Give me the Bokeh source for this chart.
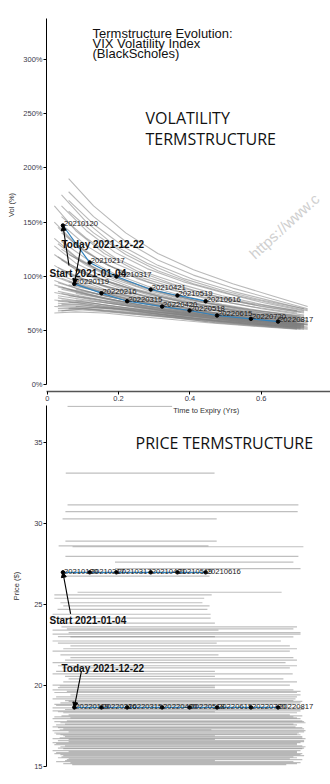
from bokeh.plotting import figure
from bokeh.models import Range1d, Label, Arrow, NormalHead, FixedTicker
from bokeh.layouts import column
from bokeh.embed import file_html
from bokeh.resources import INLINE
from bokeh.core.properties import value

# ---------------- data ----------------
# gray volatility term structures (time to expiry in years, vol in %)
vol_grid_a = [0.02, 0.08, 0.16, 0.25, 0.35, 0.45, 0.57, 0.70]
vol_grid_b = [0.04, 0.11, 0.19, 0.28, 0.38, 0.49, 0.60, 0.72]
vol_grid_c = [0.06, 0.13, 0.22, 0.31, 0.41, 0.52, 0.63, 0.73]
vol_grid_d = [0.03, 0.09, 0.17, 0.27, 0.37, 0.47, 0.59, 0.71]
vol_grid_e = [0.08, 0.15, 0.24, 0.33, 0.43, 0.54, 0.65, 0.72]

vol_curves_a = [
    [165, 142, 121, 105, 93, 83, 75, 68],
    [150, 130, 112, 98, 87, 79, 72, 66],
    [135, 118, 103, 91, 82, 75, 69, 63],
    [128, 112, 99, 88, 80, 73, 67, 62],
    [120, 106, 94, 84, 76, 70, 65, 60],
    [110, 98, 88, 80, 73, 67, 62, 58],
    [100, 92, 84, 77, 71, 65, 61, 57],
    [96, 89, 82, 76, 70, 64, 60, 56],
    [92, 86, 80, 74, 68, 63, 59, 55],
    [85, 81, 76, 71, 66, 62, 58, 54],
    [78, 76, 72, 68, 64, 60, 56, 53],
    [72, 71, 68, 65, 62, 58, 55, 52],
    [66, 67, 66, 63, 60, 57, 54, 51],
]
vol_curves_b = [
    [175, 150, 128, 112, 98, 87, 78, 70],
    [165, 142, 122, 107, 95, 85, 76, 68],
    [155, 135, 117, 103, 92, 82, 74, 67],
    [148, 128, 112, 99, 89, 80, 72, 66],
    [140, 122, 107, 95, 85, 77, 70, 64],
    [132, 116, 102, 91, 82, 74, 68, 63],
    [125, 110, 97, 87, 79, 72, 66, 62],
    [115, 103, 92, 83, 76, 70, 64, 60],
    [105, 96, 87, 79, 72, 67, 62, 58],
    [98, 90, 82, 75, 69, 64, 60, 56],
    [90, 84, 78, 72, 67, 62, 58, 55],
    [88, 83, 77, 71, 66, 62, 58, 54],
    [84, 80, 75, 70, 65, 61, 57, 54],
    [78, 76, 72, 68, 64, 60, 56, 53],
    [74, 73, 70, 66, 62, 58, 55, 52],
    [68, 70, 68, 65, 61, 58, 54, 51],
]
vol_curves_c = [
    [190, 165, 140, 121, 106, 93, 82, 72],
    [178, 155, 132, 115, 101, 89, 79, 70],
    [170, 148, 126, 110, 97, 86, 77, 69],
    [160, 140, 120, 105, 93, 83, 75, 68],
    [120, 108, 96, 86, 78, 71, 65, 61],
    [110, 100, 90, 82, 75, 69, 63, 59],
    [102, 94, 86, 78, 72, 66, 61, 57],
    [95, 89, 82, 75, 69, 64, 59, 56],
    [92, 87, 80, 74, 68, 63, 59, 55],
    [88, 84, 78, 72, 67, 62, 58, 55],
    [82, 79, 74, 69, 64, 60, 57, 53],
    [76, 75, 71, 67, 63, 59, 55, 52],
    [70, 71, 69, 65, 61, 58, 54, 51],
]
vol_curves_d = [
    [80, 77, 73, 69, 65, 61, 57, 54],
    [86, 82, 77, 72, 67, 63, 59, 55],
    [94, 88, 81, 75, 69, 64, 60, 56],
    [75, 74, 71, 67, 63, 59, 56, 53],
    [70, 70, 68, 65, 62, 58, 55, 52],
    [102, 94, 86, 79, 72, 66, 62, 58],
    [108, 99, 90, 82, 75, 69, 64, 60],
    [82, 79, 75, 71, 66, 62, 58, 55],
    [90, 85, 79, 73, 68, 63, 59, 56],
    [77, 75, 72, 68, 64, 60, 57, 54],
    [73, 72, 70, 66, 63, 59, 56, 53],
    [68, 69, 67, 64, 61, 57, 54, 51],
    [145, 126, 110, 98, 88, 80, 73, 67],
    [130, 115, 101, 90, 81, 74, 68, 63],
    [118, 106, 95, 85, 77, 71, 65, 61],
]
vol_curves_e = [
    [84, 80, 75, 70, 65, 61, 57, 55],
    [78, 76, 72, 68, 64, 60, 56, 54],
    [92, 86, 80, 74, 68, 63, 59, 56],
    [99, 92, 84, 77, 71, 65, 61, 58],
    [72, 71, 69, 66, 62, 58, 55, 53],
    [88, 83, 78, 72, 67, 62, 58, 55],
    [105, 97, 88, 80, 73, 67, 62, 59],
]

# highlighted curves
start_expiries = ["20210120", "20210217", "20210317", "20210421", "20210519", "20210616"]
start_tte = [0.044, 0.119, 0.194, 0.290, 0.365, 0.444]
start_vol = [146.8, 112.6, 99.7, 87.7, 82.2, 76.9]
start_price = [26.97, 26.97, 26.97, 26.97, 26.97, 26.97]

today_expiries = ["20220119", "20220216", "20220315", "20220420", "20220518",
                  "20220615", "20220720", "20220817"]
today_tte = [0.076, 0.152, 0.224, 0.322, 0.399, 0.476, 0.571, 0.647]
today_vol = [92.9, 84.3, 76.9, 72.0, 68.3, 63.7, 60.6, 58.1]
today_price = [18.63, 18.63, 18.63, 18.63, 18.63, 18.63, 18.63, 18.63]

# gray price term structures (flat: spot level, first and last expiry)
price_level = [37.21, 33.10, 31.13, 30.72, 30.27, 28.90, 28.60, 28.55, 27.96, 27.60,
               27.20, 26.73, 25.74, 25.58, 25.37, 25.09, 24.68, 24.38, 24.14, 23.83,
               23.40, 23.25, 23.15, 22.98, 22.73, 22.43, 22.10, 21.87, 21.70, 21.39,
               21.07, 20.70, 20.39, 20.00, 19.71, 19.40, 19.16, 18.91, 18.60, 18.42,
               18.17, 17.93, 17.68, 17.43, 17.19, 16.94, 16.70, 16.45, 16.20, 15.96,
               15.71, 15.46, 15.22, 24.90, 23.60, 22.60, 21.55, 20.85, 20.20, 19.85,
               19.55, 19.05, 18.75, 18.30, 18.05, 17.80, 17.55, 17.30, 17.05, 16.82,
               16.58, 16.33, 16.08, 15.84, 15.58, 15.34, 16.65, 17.25, 15.10,
               19.95, 19.62, 19.28, 19.00, 18.82, 18.50, 18.36, 18.10, 17.98, 17.75,
               17.60, 17.38, 17.12, 16.98, 16.88, 16.75, 16.52, 16.40, 16.25, 16.12,
               15.90, 15.78, 15.65, 15.52, 15.40, 15.28, 15.16, 23.00, 22.25, 21.20,
               20.55, 23.48]
price_x0 = [0.057, 0.052, 0.057, 0.051, 0.043, 0.051, 0.032, 0.071, 0.051, 0.190,
            0.190, 0.043, 0.085, 0.020, 0.020, 0.037, 0.029, 0.015, 0.015, 0.030,
            0.015, 0.060, 0.015, 0.065, 0.015, 0.065, 0.015, 0.037, 0.065, 0.015,
            0.043, 0.015, 0.060, 0.015, 0.015, 0.065, 0.015, 0.037, 0.015, 0.015,
            0.060, 0.015, 0.037, 0.015, 0.015, 0.037, 0.015, 0.015, 0.037, 0.015,
            0.037, 0.060, 0.065, 0.045, 0.040, 0.030, 0.050, 0.025, 0.045, 0.030,
            0.020, 0.050, 0.025, 0.045, 0.020, 0.055, 0.025, 0.045, 0.020, 0.050,
            0.030, 0.020, 0.045, 0.025, 0.040, 0.050, 0.060, 0.035, 0.070,
            0.035, 0.055, 0.025, 0.060, 0.020, 0.050, 0.030, 0.040, 0.065, 0.020,
            0.050, 0.030, 0.060, 0.025, 0.045, 0.035, 0.060, 0.025, 0.050, 0.030,
            0.060, 0.020, 0.045, 0.030, 0.055, 0.025, 0.045, 0.030, 0.045, 0.030,
            0.050, 0.055]
price_x1 = [0.350, 0.469, 0.704, 0.702, 0.475, 0.475, 0.452, 0.718, 0.704, 0.690,
            0.710, 0.455, 0.657, 0.461, 0.440, 0.435, 0.449, 0.458, 0.458, 0.470,
            0.480, 0.710, 0.710, 0.690, 0.655, 0.680, 0.680, 0.480, 0.690, 0.668,
            0.680, 0.688, 0.662, 0.680, 0.690, 0.710, 0.696, 0.710, 0.718, 0.710,
            0.680, 0.710, 0.724, 0.696, 0.724, 0.710, 0.724, 0.710, 0.724, 0.710,
            0.710, 0.680, 0.710, 0.455, 0.700, 0.475, 0.700, 0.470, 0.700, 0.470,
            0.700, 0.690, 0.470, 0.700, 0.690, 0.715, 0.700, 0.720, 0.705, 0.715,
            0.720, 0.700, 0.715, 0.700, 0.690, 0.470, 0.470, 0.460, 0.670,
            0.470, 0.710, 0.700, 0.715, 0.690, 0.720, 0.470, 0.715, 0.700, 0.720,
            0.690, 0.715, 0.720, 0.700, 0.470, 0.715, 0.720, 0.700, 0.715, 0.720,
            0.700, 0.715, 0.720, 0.700, 0.715, 0.690, 0.700, 0.470, 0.700, 0.700,
            0.470, 0.690]

vol_ticks = [0, 50, 100, 150, 200, 250, 300]
tte_ticks = [0.0, 0.2, 0.4, 0.6]
price_ticks = [15, 20, 25, 30, 35]

# ---------------- styles ----------------
FONT = value("Liberation Sans")
GRAY = "#808080"
BLUE = "#3182bd"
TXT = "#1a1a1a"
AX = "#333333"


def style_axis(ax):
    ax.axis_label_text_font = "Liberation Sans"
    ax.axis_label_text_font_size = "7.5px"
    ax.axis_label_text_font_style = "normal"
    ax.axis_label_text_color = AX
    ax.major_label_text_font = "Liberation Sans"
    ax.major_label_text_font_size = "7.5px"
    ax.major_label_text_color = "#3a3a4a"
    ax.major_tick_out = 3
    ax.major_tick_in = 0
    ax.minor_tick_out = 0
    ax.minor_tick_in = 0
    ax.major_label_standoff = 1


# ---------------- volatility figure ----------------
p1 = figure(width=330, height=405, output_backend="svg", toolbar_location=None,
            x_range=Range1d(-0.002, 0.794), y_range=Range1d(-6.5, 338),
            min_border_left=46, min_border_right=0, min_border_top=18,
            min_border_bottom=14)
p1.outline_line_color = None
p1.xgrid.visible = False
p1.ygrid.visible = False

xs, ys = [], []
for grid, curves in ((vol_grid_a, vol_curves_a), (vol_grid_b, vol_curves_b),
                     (vol_grid_c, vol_curves_c), (vol_grid_d, vol_curves_d),
                     (vol_grid_e, vol_curves_e)):
    for c in curves:
        xs.append(grid)
        ys.append(c)
p1.multi_line(xs, ys, line_color=GRAY, line_alpha=0.55, line_width=1.1)

for tx, vy in ((start_tte, start_vol), (today_tte, today_vol)):
    p1.line(tx, vy, line_color=BLUE, line_width=1.2)
p1.scatter(start_tte + today_tte, start_vol + today_vol, size=3.5, color="black")
p1.text(start_tte + today_tte, start_vol + today_vol,
        text=start_expiries + today_expiries, text_font=FONT,
        text_font_size="7.7px", text_color=TXT, text_baseline="middle",
        x_offset=1, y_offset=-2)

p1.add_layout(Arrow(end=NormalHead(size=5, fill_color="black", line_color="black"),
                    x_start=0.061, y_start=110, x_end=start_tte[0], y_end=start_vol[0],
                    line_width=1.1, line_color="black"))
p1.add_layout(Arrow(end=NormalHead(size=5, fill_color="black", line_color="black"),
                    x_start=0.094, y_start=126, x_end=today_tte[0], y_end=today_vol[0],
                    line_width=1.1, line_color="black"))
p1.add_layout(Label(x=0.040, y=129.2, text="Today 2021-12-22", text_font="Liberation Sans",
                    text_font_size="10px", text_font_style="bold", text_color="#111111",
                    text_baseline="middle"))
p1.add_layout(Label(x=0.0064, y=102.5, text="Start 2021-01-04", text_font="Liberation Sans",
                    text_font_size="10px", text_font_style="bold", text_color="#111111",
                    text_baseline="middle"))

for i, t in enumerate(["Termstructure Evolution:", "VIX Volatility Index", "(BlackScholes)"]):
    p1.add_layout(Label(x=0.127, y=324.5 - 9.6 * i, text=t, text_font="Liberation Sans",
                        text_font_size="13px", text_color="#111111",
                        text_baseline="middle"))
p1.add_layout(Label(x=0.2756, y=246.5, text="VOLATILITY", text_font="Open Sans",
                    text_font_size="16px", text_color="#111111", text_baseline="middle"))
p1.add_layout(Label(x=0.2756, y=227, text="TERMSTRUCTURE", text_font="Open Sans",
                    text_font_size="16px", text_color="#111111", text_baseline="middle"))
p1.add_layout(Label(x=0.589, y=113, text="https://www.c", angle=0.74,
                    text_font="Liberation Sans", text_font_size="15px",
                    text_color="#cfcfcf"))

style_axis(p1.xaxis[0])
style_axis(p1.yaxis[0])
p1.yaxis.axis_label = "Vol (%)"
p1.yaxis.axis_label_standoff = 4
p1.yaxis.ticker = FixedTicker(ticks=vol_ticks)
p1.yaxis.major_label_overrides = {t: f"{t}%" for t in vol_ticks}
p1.yaxis.bounds = (0, 338)
p1.yaxis.axis_line_color = "black"
p1.xaxis.ticker = FixedTicker(ticks=tte_ticks)
p1.xaxis.axis_line_color = "#555555"
p1.xaxis.axis_line_width = 1.3

# ---------------- price figure ----------------
p2 = figure(width=330, height=379, output_backend="svg", toolbar_location=None,
            x_range=Range1d(-0.002, 0.794), y_range=Range1d(14.98, 37.27),
            min_border_left=46, min_border_right=0, min_border_top=0,
            min_border_bottom=18)
p2.outline_line_color = None
p2.xgrid.visible = False
p2.ygrid.visible = False
p2.xaxis.visible = False

p2.segment(x0=price_x0, y0=price_level, x1=price_x1, y1=price_level,
           line_color=GRAY, line_alpha=0.5, line_width=1.2)
for tx, py in ((start_tte, start_price), (today_tte, today_price)):
    p2.line(tx, py, line_color=BLUE, line_width=1.2)
p2.scatter(start_tte + today_tte, start_price + today_price, size=3.5, color="black")
p2.text(start_tte + today_tte, start_price + today_price,
        text=start_expiries + today_expiries, text_font=FONT,
        text_font_size="7.7px", text_color=TXT, text_baseline="middle",
        x_offset=1, y_offset=-1)

p2.add_layout(Arrow(end=NormalHead(size=5, fill_color="black", line_color="black"),
                    x_start=0.0655, y_start=24.4, x_end=start_tte[0], y_end=start_price[0],
                    line_width=1.1, line_color="black"))
p2.add_layout(Arrow(end=NormalHead(size=5, fill_color="black", line_color="black"),
                    x_start=0.096, y_start=20.88, x_end=today_tte[0], y_end=today_price[0],
                    line_width=1.1, line_color="black"))
p2.add_layout(Label(x=0.0064, y=23.97, text="Start 2021-01-04", text_font="Liberation Sans",
                    text_font_size="10px", text_font_style="bold", text_color="#111111",
                    text_baseline="middle"))
p2.add_layout(Label(x=0.040, y=21.02, text="Today 2021-12-22", text_font="Liberation Sans",
                    text_font_size="10px", text_font_style="bold", text_color="#111111",
                    text_baseline="middle"))
p2.add_layout(Label(x=0.2476, y=34.98, text="PRICE TERMSTRUCTURE", text_font="Open Sans",
                    text_font_size="16px", text_color="#111111", text_baseline="middle"))
# x-axis title of the volatility panel (it overlaps the top of the price panel)
p2.add_layout(Label(x=0.353, y=36.97, text="Time to Expiry (Yrs)", text_font="Liberation Sans",
                    text_font_size="7.5px", text_color=AX, text_baseline="middle"))

style_axis(p2.yaxis[0])
p2.yaxis.axis_label = "Price ($)"
p2.yaxis.axis_label_standoff = 10
p2.yaxis.ticker = FixedTicker(ticks=price_ticks)
p2.yaxis.axis_line_color = "black"

layout = column(p1, p2, spacing=0)
open("out.html", "w").write(file_html(layout, INLINE))
